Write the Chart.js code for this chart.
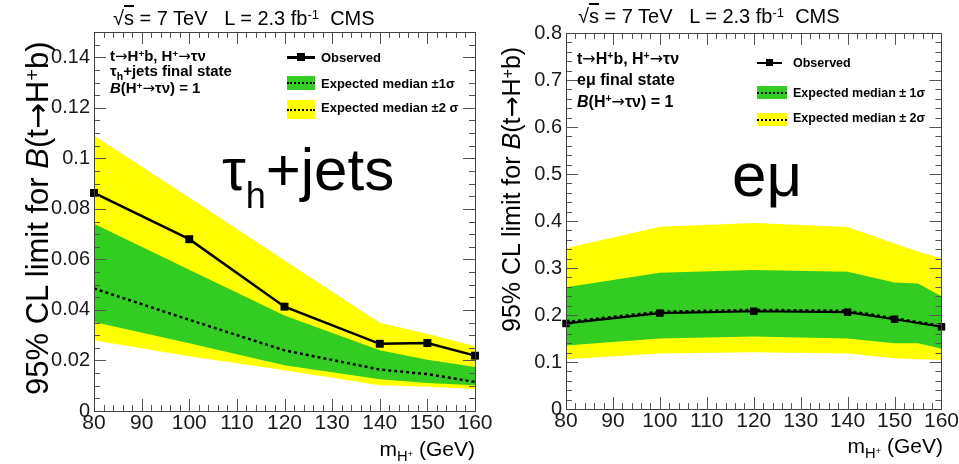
<!DOCTYPE html>
<html>
<head>
<meta charset="utf-8">
<script src="https://cdn.jsdelivr.net/npm/chart.js@4.4.1/dist/chart.umd.min.js"></script>
<style>
  html, body { margin: 0; padding: 0; background: #fff; }
  #wrap { position: relative; width: 959px; height: 464px; overflow: hidden; background: #fff; }
  canvas { position: absolute; top: 0; }
  .t { position: absolute; white-space: nowrap; line-height: normal; color: #000;
       font-family: "Liberation Sans", Arial, Helvetica, sans-serif; }
  .b { font-weight: bold; }
  .ar { font-family: "DejaVu Sans", sans-serif; font-weight: normal; }
  .up { position: relative; top: -0.45em; font-size: 0.65em; }
  .dn { position: relative; top: 0.35em; font-size: 0.7em; }
  .ytitle { left: 0; top: 0; transform-origin: 0 0; }
  .ov { text-decoration: overline; }
  .sym { position: absolute; }
  .box::after { content: ""; position: absolute; left: 0; right: 0; top: 50%; margin-top: -1px;
                border-top: 2.5px dotted #000; }
</style>
</head>
<body>
<div id="wrap">
  <canvas id="tauChart" width="500" height="464" style="left:0"></canvas>
  <canvas id="emuChart" width="479" height="464" style="left:480px"></canvas>

  <!-- headers -->
  <div class="t" style="left:113px;top:7px;font-size:20px">√<span class="ov">s</span> = 7 TeV&nbsp;&nbsp; L = 2.3 fb<span class="up">-1</span>&nbsp; CMS</div>
  <div class="t" style="left:578px;top:5px;font-size:20px">√<span class="ov">s</span> = 7 TeV&nbsp;&nbsp; L = 2.3 fb<span class="up">-1</span>&nbsp; CMS</div>

  <!-- axis titles -->
  <div class="t ytitle" style="font-size:31px;transform:translate(19px,395px) rotate(-90deg)">95% CL limit for <i>B</i>(t<span class="ar">→</span>H<span class="up">+</span>b)</div>
  <div class="t ytitle" style="font-size:25px;transform:translate(497px,332px) rotate(-90deg)">95% CL limit for <i>B</i>(t<span class="ar">→</span>H<span class="up">+</span>b)</div>
  <div class="t" style="right:484px;top:437px;font-size:21px">m<span class="dn">H<span class="up">+</span></span> (GeV)</div>
  <div class="t" style="right:16px;top:434px;font-size:21px">m<span class="dn">H<span class="up">+</span></span> (GeV)</div>

  <!-- channel labels -->
  <div class="t" style="left:222px;top:135px;font-size:60px">τ<span style="font-size:36px;position:relative;top:18px">h</span>+jets</div>
  <div class="t" style="left:732px;top:139px;font-size:62px">eμ</div>

  <!-- tau+jets info and legend -->
  <div class="t b" style="left:110px;top:47px;font-size:15px">t<span class="ar">→</span>H<span class="up">+</span>b, H<span class="up">+</span><span class="ar">→</span>τν</div>
  <div class="t b" style="left:110px;top:62px;font-size:15px">τ<span class="dn">h</span>+jets final state</div>
  <div class="t b" style="left:110px;top:79px;font-size:15px"><i>B</i>(H<span class="up">+</span><span class="ar">→</span>τν) = 1</div>

  <div class="sym" style="left:287px;top:56px;width:28px;height:2.5px;background:#000"></div>
  <div class="sym" style="left:297px;top:53px;width:8px;height:8px;background:#000"></div>
  <div class="sym box" style="left:287px;top:76px;width:28px;height:14px;background:#33cc22"></div>
  <div class="sym box" style="left:287px;top:100px;width:28px;height:19px;background:#ffff00"></div>
  <div class="t b" style="left:321px;top:50px;font-size:13px">Observed</div>
  <div class="t b" style="left:321px;top:76px;font-size:13px">Expected median ±1σ</div>
  <div class="t b" style="left:321px;top:100px;font-size:13px">Expected median ±2 σ</div>

  <!-- e-mu info and legend -->
  <div class="t b" style="left:577px;top:49px;font-size:16px">t<span class="ar">→</span>H<span class="up">+</span>b, H<span class="up">+</span><span class="ar">→</span>τν</div>
  <div class="t b" style="left:577px;top:71px;font-size:16px">eμ final state</div>
  <div class="t b" style="left:577px;top:92px;font-size:16px"><i>B</i>(H<span class="up">+</span><span class="ar">→</span>τν) = 1</div>

  <div class="sym" style="left:757px;top:62px;width:25px;height:2px;background:#000"></div>
  <div class="sym" style="left:766px;top:59px;width:7px;height:7px;background:#000"></div>
  <div class="sym box" style="left:757px;top:86px;width:30px;height:13px;background:#33cc22"></div>
  <div class="sym box" style="left:757px;top:113px;width:30px;height:13px;background:#ffff00"></div>
  <div class="t b" style="left:793px;top:56px;font-size:12.5px">Observed</div>
  <div class="t b" style="left:793px;top:86px;font-size:12.5px">Expected median ± 1σ</div>
  <div class="t b" style="left:793px;top:111px;font-size:12.5px">Expected median ± 2σ</div>
</div>

<script>
// Charged Higgs mass points (GeV)
const massTau = [80, 100, 120, 140, 150, 160];
const massEmu = [80, 100, 120, 140, 150, 160];
const massEmuBand = [80, 100, 120, 140, 150, 155, 160];

// tau_h + jets: 95% CL upper limits on B(t -> H+ b)
const tauObserved      = [0.0863, 0.0680, 0.0413, 0.0266, 0.0269, 0.0219];
const tauExpected      = [0.0485, 0.0361, 0.0240, 0.0164, 0.0146, 0.0115];
const tauOneSigmaUp    = [0.0741, 0.0559, 0.0378, 0.0240, 0.0203, 0.0174];
const tauOneSigmaDown  = [0.0352, 0.0268, 0.0181, 0.0126, 0.0111, 0.0102];
const tauTwoSigmaUp    = [0.1090, 0.0845, 0.0597, 0.0349, 0.0306, 0.0256];
const tauTwoSigmaDown  = [0.0280, 0.0217, 0.0161, 0.0102, 0.0096, 0.0087];

// e-mu: 95% CL upper limits on B(t -> H+ b)
const emuObserved      = [0.182, 0.204, 0.208, 0.206, 0.191, 0.175];
const emuExpected      = [0.185, 0.207, 0.211, 0.209, 0.193, 0.177];
const emuOneSigmaUp    = [0.259, 0.290, 0.296, 0.292, 0.269, 0.267, 0.240];
const emuOneSigmaDown  = [0.135, 0.150, 0.154, 0.150, 0.140, 0.140, 0.128];
const emuTwoSigmaUp    = [0.342, 0.388, 0.396, 0.387, 0.352, 0.335, 0.321];
const emuTwoSigmaDown  = [0.106, 0.118, 0.121, 0.118, 0.108, 0.106, 0.104];

// axis ticks
const xTickValues   = [80, 90, 100, 110, 120, 130, 140, 150, 160];
const xTickLabels   = ['80', '90', '100', '110', '120', '130', '140', '150', '160'];
const tauTickValues = [0, 0.02, 0.04, 0.06, 0.08, 0.10, 0.12, 0.14];
const tauTickLabels = ['0', '0.02', '0.04', '0.06', '0.08', '0.1', '0.12', '0.14'];
const emuTickValues = [0, 0.1, 0.2, 0.3, 0.4, 0.5, 0.6, 0.7, 0.8];
const emuTickLabels = ['0', '0.1', '0.2', '0.3', '0.4', '0.5', '0.6', '0.7', '0.8'];

const GREEN = '#33cc22';
const YELLOW = '#ffff00';
const FONT = "'Liberation Sans', Arial, Helvetica, sans-serif";

const pts = (xs, ys) => xs.map((x, i) => ({ x: x, y: ys[i] }));

// Frame with ROOT-style inward ticks on all four sides
const frameTicks = {
  id: 'frameTicks',
  afterDatasetsDraw(chart, args, o) {
    const { ctx, chartArea: a, scales: { x, y } } = chart;
    ctx.save();
    ctx.strokeStyle = '#555';
    ctx.lineWidth = 1;
    ctx.beginPath();
    const isMajor = (v, step) => Math.abs(v / step - Math.round(v / step)) < 1e-6;
    const nx = Math.round((o.xMax - o.xMin) / o.xMinor);
    for (let i = 0; i <= nx; i++) {
      const v = o.xMin + i * o.xMinor;
      const px = Math.round(x.getPixelForValue(v)) + 0.5;
      const len = isMajor(v, o.xMajor) ? 12 : 6;
      ctx.moveTo(px, a.bottom); ctx.lineTo(px, a.bottom - len);
      ctx.moveTo(px, a.top); ctx.lineTo(px, a.top + len);
    }
    const ny = Math.round((o.yMax - o.yMin) / o.yMinor);
    for (let i = 0; i <= ny; i++) {
      const v = o.yMin + i * o.yMinor;
      const py = Math.round(y.getPixelForValue(v)) + 0.5;
      const len = isMajor(v, o.yMajor) ? 12 : 6;
      ctx.moveTo(a.left, py); ctx.lineTo(a.left + len, py);
      ctx.moveTo(a.right, py); ctx.lineTo(a.right - len, py);
    }
    ctx.stroke();
    ctx.strokeStyle = '#444';
    ctx.strokeRect(Math.round(a.left) + 0.5, Math.round(a.top) + 0.5,
                   Math.round(a.right - a.left), Math.round(a.bottom - a.top));
    ctx.restore();
  }
};

function bandEdge(data, target, color) {
  return {
    data: data, borderWidth: 0, borderColor: 'rgba(0,0,0,0)', pointRadius: 0,
    fill: target === null ? false : { target: target, above: color, below: color },
    tension: 0
  };
}

function makeChart(id, cfg) {
  const datasets = [
    { data: pts(cfg.mass, cfg.observed), borderColor: '#000', borderWidth: cfg.obsWidth,
      pointStyle: 'rect', pointRadius: cfg.markerRadius, pointBackgroundColor: '#000',
      pointBorderWidth: 0, fill: false, clip: false, tension: 0 },
    { data: pts(cfg.mass, cfg.expected), borderColor: '#000', borderWidth: 2.5,
      borderDash: [3, 3], pointRadius: 0, fill: false, tension: 0 },
    bandEdge(pts(cfg.bandMass, cfg.oneUp), 3, GREEN),
    bandEdge(pts(cfg.bandMass, cfg.oneDown), null),
    bandEdge(pts(cfg.bandMass, cfg.twoUp), 5, YELLOW),
    bandEdge(pts(cfg.bandMass, cfg.twoDown), null)
  ];
  return new Chart(document.getElementById(id), {
    type: 'line',
    data: { datasets: datasets },
    options: {
      responsive: false, animation: false, devicePixelRatio: 1, events: [],
      layout: { padding: cfg.padding },
      plugins: {
        legend: { display: false }, tooltip: { enabled: false },
        frameTicks: cfg.ticks
      },
      scales: {
        x: {
          type: 'linear', min: 80, max: 160,
          afterBuildTicks: s => { s.ticks = xTickValues.map(v => ({ value: v })); },
          afterFit: s => { s.height = cfg.xHeight; },
          ticks: { callback: (v, i) => xTickLabels[i], autoSkip: false, maxRotation: 0,
                   padding: 0, color: '#1a1a1a', font: { family: FONT, size: 21 } },
          grid: { display: false, drawTicks: false }, border: { display: false }
        },
        y: {
          type: 'linear', min: 0, max: cfg.yMax,
          afterBuildTicks: s => { s.ticks = cfg.yTicks.map(v => ({ value: v })); },
          afterFit: s => { s.width = cfg.yWidth; },
          ticks: { callback: (v, i) => cfg.yLabels[i], autoSkip: false, padding: 4,
                   color: '#1a1a1a', font: { family: FONT, size: 20 } },
          grid: { display: false, drawTicks: false }, border: { display: false }
        }
      }
    },
    plugins: [frameTicks]
  });
}

makeChart('tauChart', {
  mass: massTau, bandMass: massTau,
  observed: tauObserved, expected: tauExpected,
  oneUp: tauOneSigmaUp, oneDown: tauOneSigmaDown,
  twoUp: tauTwoSigmaUp, twoDown: tauTwoSigmaDown,
  yMax: 0.15, yTicks: tauTickValues, yLabels: tauTickLabels,
  obsWidth: 2.5, markerRadius: 5.6,
  padding: { top: 32, right: 25, left: 0, bottom: 0 }, yWidth: 94, xHeight: 53,
  ticks: { xMin: 80, xMax: 160, xMinor: 2, xMajor: 10, yMin: 0, yMax: 0.15, yMinor: 0.005, yMajor: 0.02 }
});

makeChart('emuChart', {
  mass: massEmu, bandMass: massEmuBand,
  observed: emuObserved, expected: emuExpected,
  oneUp: emuOneSigmaUp, oneDown: emuOneSigmaDown,
  twoUp: emuTwoSigmaUp, twoDown: emuTwoSigmaDown,
  yMax: 0.8, yTicks: emuTickValues, yLabels: emuTickLabels,
  obsWidth: 2.2, markerRadius: 5.3,
  padding: { top: 33, right: 15, left: 0, bottom: 0 }, yWidth: 86, xHeight: 55,
  ticks: { xMin: 80, xMax: 160, xMinor: 2, xMajor: 10, yMin: 0, yMax: 0.8, yMinor: 0.02, yMajor: 0.1 }
});
</script>
</body>
</html>
